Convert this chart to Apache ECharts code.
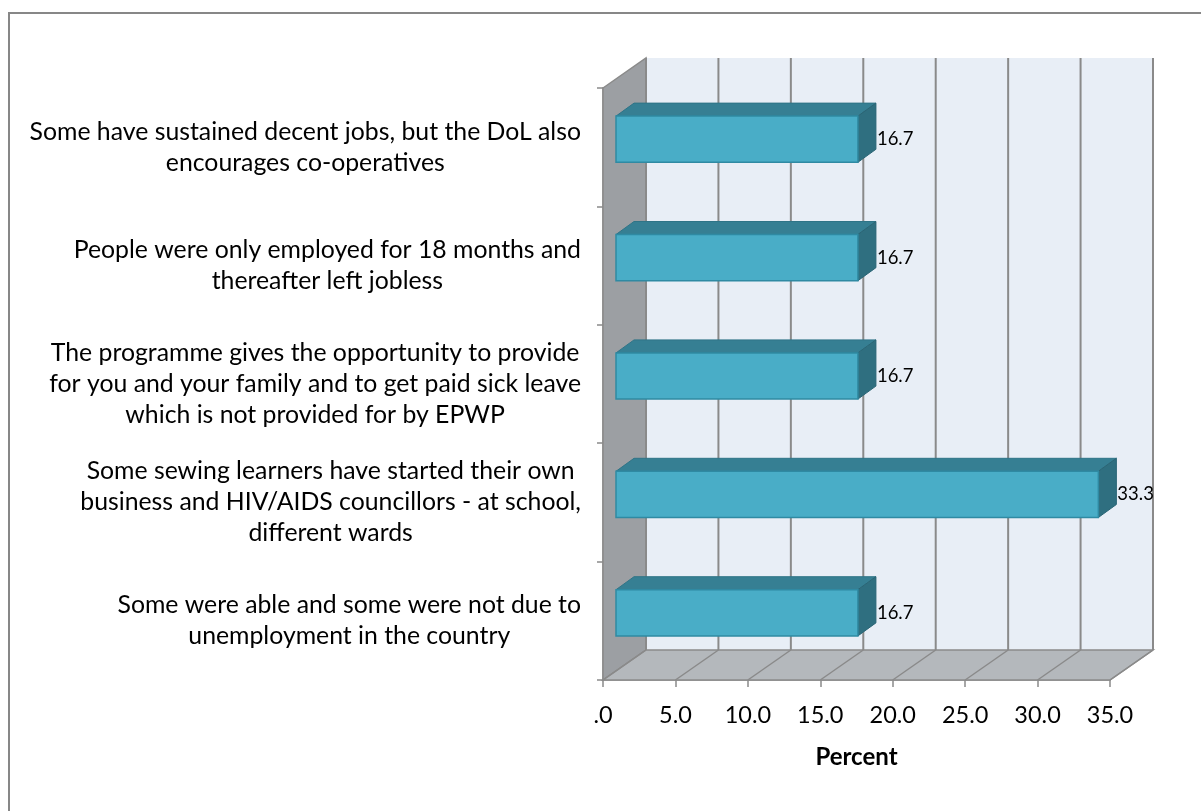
<!DOCTYPE html>
<html>
<head>
<meta charset="utf-8">
<script src="https://cdn.jsdelivr.net/npm/echarts@6/dist/echarts.min.js"></script>
<style>
  html, body { margin: 0; padding: 0; background: #ffffff; }
  #chart { width: 1201px; height: 811px; }
</style>
</head>
<body>
<div id="chart"></div>
<script>
// Survey responses (percent of respondents), top to bottom
const categories = [
  'Some have sustained decent jobs, but the DoL also\nencourages co-operatives',
  'People were only employed for 18 months and\nthereafter left jobless',
  'The programme gives the opportunity to provide\nfor you and your family and to get paid sick leave\nwhich is not provided for by EPWP',
  'Some sewing learners have started their own\nbusiness and HIV/AIDS councillors - at school,\ndifferent wards',
  'Some were able and some were not due to\nunemployment in the country'
];
const values = [16.7, 16.7, 16.7, 33.3, 16.7];
const tickValues = [0, 5, 10, 15, 20, 25, 30, 35];
const tickLabels = ['.0', '5.0', '10.0', '15.0', '20.0', '25.0', '30.0', '35.0'];

const FONT = 'Lato, "Open Sans", sans-serif';
const CAT_FONT_SIZE = 24.8;
const LINE_H = 31;

// 3D look: offset of the back wall relative to the front plane
const WALL_DX = 43, WALL_DY = -30;
// bar box: front face offset and extra depth of the box
const BAR_FX = 13, BAR_FY = -8;
const BAR_DX = 18, BAR_DY = -13;

const measureCtx = document.createElement('canvas').getContext('2d');
measureCtx.font = CAT_FONT_SIZE + 'px ' + FONT;
function blockWidth(text) {
  return Math.max.apply(null, text.split('\n').map(s => measureCtx.measureText(s).width));
}

function renderScene(params, api) {
  const cs = params.coordSys;
  const L = cs.x, T = cs.y, R = cs.x + cs.width, B = cs.y + cs.height;
  const grid = '#8a8a8a';
  const kids = [];
  // back wall
  kids.push({ type: 'rect', shape: { x: L + WALL_DX, y: T + WALL_DY, width: cs.width, height: cs.height },
    style: { fill: '#e8eef6' } });
  // left side wall
  kids.push({ type: 'polygon', shape: { points: [[L, T], [L + WALL_DX, T + WALL_DY], [L + WALL_DX, B + WALL_DY], [L, B]] },
    style: { fill: '#9c9fa3', stroke: grid, lineWidth: 1.5 } });
  // floor
  kids.push({ type: 'polygon', shape: { points: [[L, B], [L + WALL_DX, B + WALL_DY], [R + WALL_DX, B + WALL_DY], [R, B]] },
    style: { fill: '#b4b8bc', stroke: grid, lineWidth: 1.5 } });
  // grid lines on back wall and floor
  tickValues.forEach(v => {
    const x = api.coord([v, 0])[0];
    kids.push({ type: 'line', shape: { x1: x + WALL_DX, y1: T + WALL_DY, x2: x + WALL_DX, y2: B + WALL_DY },
      style: { stroke: grid, lineWidth: 2 } });
    kids.push({ type: 'line', shape: { x1: x, y1: B, x2: x + WALL_DX, y2: B + WALL_DY },
      style: { stroke: grid, lineWidth: 1.5 } });
  });
  // category labels: each block centred on itself, block right-aligned to the axis
  categories.forEach((c, i) => {
    const y = api.coord([0, i])[1];
    const w = blockWidth(c);
    kids.push({ type: 'text', style: { text: c, x: L - 22 - w / 2, y: y, align: 'center', verticalAlign: 'middle',
      font: CAT_FONT_SIZE + 'px ' + FONT, lineHeight: LINE_H, fill: '#000' } });
  });
  return { type: 'group', children: kids };
}

function renderBar(params, api) {
  const i = api.value(1), v = api.value(0);
  const c0 = api.coord([0, i]);
  const c1 = api.coord([v, i]);
  const bandH = api.size([0, 1])[1];
  const h = bandH * 0.39;
  const x0 = c0[0] + BAR_FX, x1 = c1[0] + BAR_FX;
  const y0 = c0[1] + BAR_FY - h / 2, y1 = y0 + h;
  return {
    type: 'group',
    children: [
      { type: 'polygon', shape: { points: [[x0, y0], [x0 + BAR_DX, y0 + BAR_DY], [x1 + BAR_DX, y0 + BAR_DY], [x1, y0]] },
        style: { fill: '#367f93', stroke: '#2f7487', lineWidth: 1 } },
      { type: 'polygon', shape: { points: [[x1, y0], [x1 + BAR_DX, y0 + BAR_DY], [x1 + BAR_DX, y1 + BAR_DY], [x1, y1]] },
        style: { fill: '#2f6f80', stroke: '#2a6575', lineWidth: 1 } },
      { type: 'rect', shape: { x: x0, y: y0, width: x1 - x0, height: h },
        style: { fill: '#49adc7', stroke: '#2f8aa3', lineWidth: 1.5 } },
      { type: 'text', style: { text: v.toFixed(1), x: x1 + BAR_DX + 1, y: (y0 + y1) / 2, align: 'left', verticalAlign: 'middle',
        font: '18.5px ' + FONT, fill: '#000' } }
    ]
  };
}

const chart = echarts.init(document.getElementById('chart'), null, { renderer: 'canvas' });
chart.setOption({
  animation: false,
  backgroundColor: '#ffffff',
  graphic: [
    { type: 'line', shape: { x1: 8, y1: 13, x2: 1201, y2: 13 }, style: { stroke: '#878787', lineWidth: 2 } },
    { type: 'line', shape: { x1: 9, y1: 12, x2: 9, y2: 811 }, style: { stroke: '#878787', lineWidth: 2 } }
  ],
  grid: { left: 603, top: 88, width: 507, height: 592, containLabel: false },
  xAxis: {
    type: 'value', min: 0, max: 35, interval: 5,
    axisLine: { show: true, lineStyle: { color: '#8a8a8a', width: 1.5 } },
    axisTick: { show: true, length: 7, lineStyle: { color: '#8a8a8a', width: 1.5 } },
    splitLine: { show: false },
    axisLabel: {
      color: '#000', fontSize: 23.5, fontFamily: FONT, margin: 23,
      formatter: v => tickLabels[tickValues.indexOf(v)]
    },
    name: 'Percent', nameLocation: 'middle', nameGap: 65,
    nameTextStyle: { color: '#000', fontSize: 24, fontWeight: 'bold', fontFamily: FONT }
  },
  yAxis: {
    type: 'category', data: categories, inverse: true,
    axisLine: { show: true, lineStyle: { color: '#8a8a8a', width: 1.5 } },
    axisTick: { show: true, length: 6, lineStyle: { color: '#8a8a8a', width: 1.5 } },
    axisLabel: { show: false },
    splitLine: { show: false }
  },
  series: [
    { type: 'custom', renderItem: renderScene, data: [[0, 0]], z: 1, silent: true },
    { type: 'custom', renderItem: renderBar, data: values.map((v, i) => [v, i]), encode: { x: 0, y: 1 }, z: 3 }
  ]
});
</script>
</body>
</html>
